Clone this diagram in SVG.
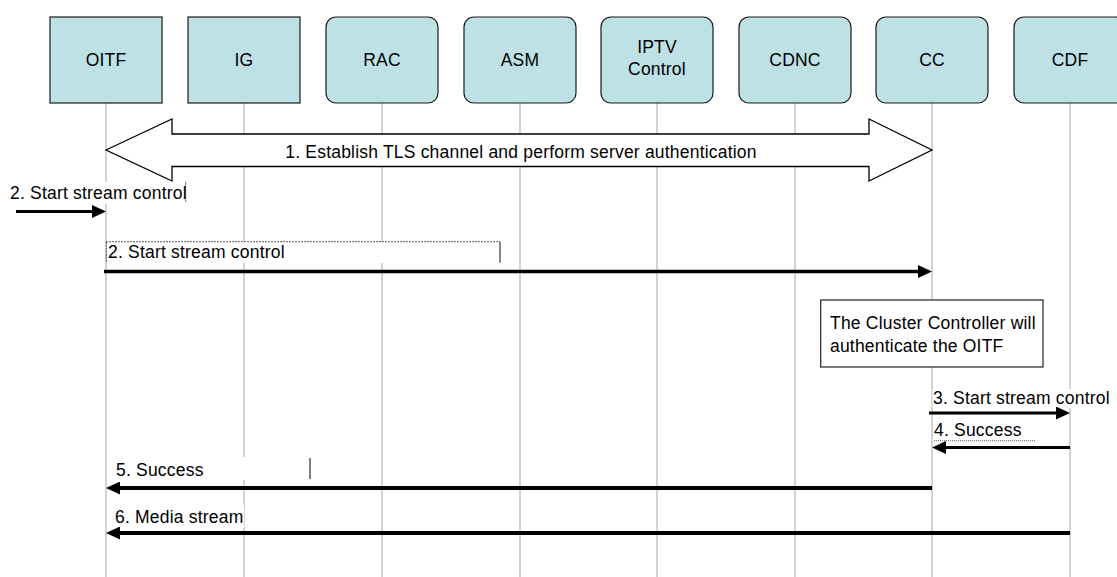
<svg xmlns="http://www.w3.org/2000/svg" width="1117" height="577" viewBox="0 0 1117 577">
<style>
text{font-family:"Liberation Sans",Arial,sans-serif;font-size:17.5px;fill:#000;letter-spacing:0.2px}
.box{fill:#BDE1E4;stroke:#1a1a1a;stroke-width:1.2}
.life{stroke:#c8c8c8;stroke-width:1.6;fill:none}
.msg{stroke:#000;fill:none;marker-end:url(#ah)}
.bg{fill:#fff;stroke:none}
.c{text-anchor:middle}
</style>
<defs>
<marker id="ah" markerUnits="userSpaceOnUse" markerWidth="14" markerHeight="13" viewBox="0 0 14 13" refX="2" refY="6.5" orient="auto">
<path d="M0,0 L14,6.5 L0,13 z" fill="#000"/>
</marker>
</defs>
<rect width="1117" height="577" fill="#fff"/>
<g id="lifelines">
<line class="life" x1="106" y1="103" x2="106" y2="577"/>
<line class="life" x1="244" y1="103" x2="244" y2="577"/>
<line class="life" x1="382" y1="103" x2="382" y2="577"/>
<line class="life" x1="520" y1="103" x2="520" y2="577"/>
<line class="life" x1="657" y1="103" x2="657" y2="577"/>
<line class="life" x1="795" y1="103" x2="795" y2="577"/>
<line class="life" x1="932" y1="103" x2="932" y2="577"/>
<line class="life" x1="1070" y1="103" x2="1070" y2="577"/>
</g>
<g id="OITF"><rect class="box" x="50" y="17" width="112" height="86"/><text class="c" x="106" y="66">OITF</text></g>
<g id="IG"><rect class="box" x="188" y="17" width="112" height="86"/><text class="c" x="244" y="66">IG</text></g>
<g id="RAC"><rect class="box" x="326" y="17" width="112" height="86" rx="10"/><text class="c" x="382" y="66">RAC</text></g>
<g id="ASM"><rect class="box" x="464" y="17" width="112" height="86" rx="10"/><text class="c" x="520" y="66">ASM</text></g>
<g id="IPTVControl"><rect class="box" x="601" y="17" width="112" height="86" rx="10"/><text class="c" x="657" y="53">IPTV</text><text class="c" x="657" y="75">Control</text></g>
<g id="CDNC"><rect class="box" x="739" y="17" width="112" height="86" rx="10"/><text class="c" x="795" y="66">CDNC</text></g>
<g id="CC"><rect class="box" x="876" y="17" width="112" height="86" rx="10"/><text class="c" x="932" y="66">CC</text></g>
<g id="CDF"><rect class="box" x="1014" y="17" width="112" height="86" rx="10"/><text class="c" x="1070" y="66">CDF</text></g>
<g id="connectors">
<g id="msg1">
<polygon points="106,150 172,119 172,134 869,134 869,119 932,150 869,181 869,166.5 172,166.5 172,181" fill="#fff" stroke="#000" stroke-width="1.3" stroke-linejoin="miter"/>
<text class="c" x="521" y="157.5">1. Establish TLS channel and perform server authentication</text>
</g>
<g id="msg2a">
<rect class="bg" x="8" y="182" width="178" height="22"/>
<line x1="185.7" y1="181.5" x2="185.7" y2="202" stroke="#555" stroke-width="0.8"/>
<text x="10" y="199">2. Start stream control</text>
<line class="msg" x1="16" y1="211.5" x2="94" y2="211.5" stroke-width="3"/>
</g>
<g id="msg2b">
<rect class="bg" x="107" y="242" width="393" height="21"/>
<line x1="106" y1="241.7" x2="500" y2="241.7" stroke="#333" stroke-width="0.8" stroke-dasharray="2,1"/>
<line x1="106.3" y1="241.7" x2="106.3" y2="262.7" stroke="#333" stroke-width="0.8" stroke-dasharray="2,1"/>
<line x1="500" y1="241.7" x2="500" y2="262.7" stroke="#333" stroke-width="1.2"/>
<text x="108" y="257.5">2. Start stream control</text>
<line class="msg" x1="104" y1="271.5" x2="920" y2="271.5" stroke-width="3.5"/>
</g>
<g id="note">
<rect x="820.7" y="300" width="222.3" height="67" fill="#fff" stroke="#222" stroke-width="1.2"/>
<text x="830" y="328.5">The Cluster Controller will</text>
<text x="830" y="351.5">authenticate the OITF</text>
</g>
<g id="msg3">
<rect class="bg" x="932.5" y="389" width="176" height="19"/>
<text x="933" y="404">3. Start stream control</text>
<line class="msg" x1="929" y1="413" x2="1058" y2="413" stroke-width="3"/>
</g>
<g id="msg4">
<rect class="bg" x="933" y="422" width="102" height="18.5"/>
<line x1="934" y1="440.7" x2="1035" y2="440.7" stroke="#333" stroke-width="0.8" stroke-dasharray="1,1"/>
<text x="934" y="435.5">4. Success</text>
<line class="msg" x1="1070" y1="447.5" x2="944" y2="447.5" stroke-width="3"/>
</g>
<g id="msg5">
<rect class="bg" x="107" y="457" width="203" height="23"/>
<line x1="310" y1="458" x2="310" y2="479" stroke="#000" stroke-width="1"/>
<text x="116" y="476">5. Success</text>
<line class="msg" x1="932" y1="488" x2="118" y2="488" stroke-width="4"/>
</g>
<g id="msg6">
<rect class="bg" x="107" y="505" width="137" height="23"/>
<text x="115" y="522.5">6. Media stream</text>
<line class="msg" x1="1070" y1="533" x2="118" y2="533" stroke-width="4"/>
</g>
</g>
</svg>
